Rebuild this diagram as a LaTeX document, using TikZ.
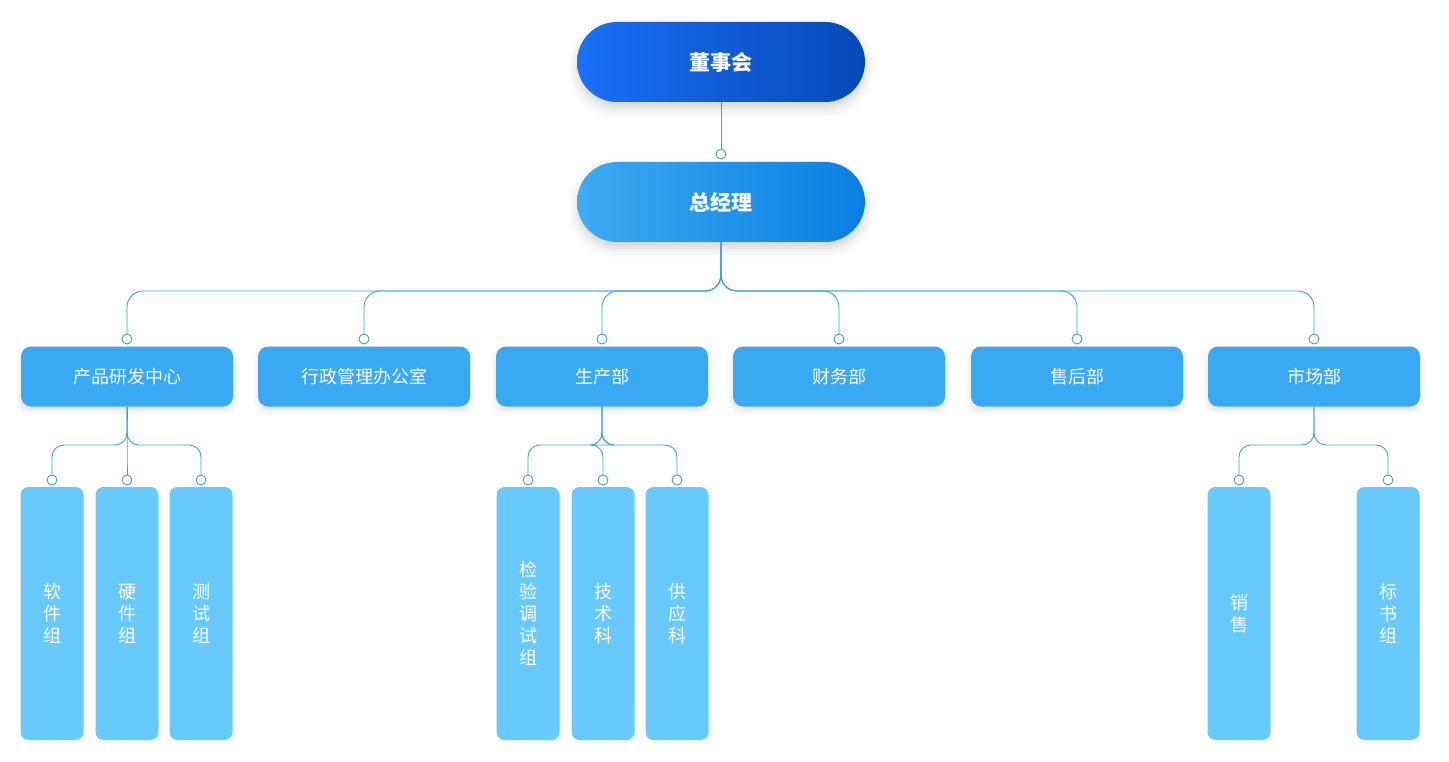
\documentclass[tikz,border=0pt]{standalone}
\usepackage{fontspec}
\setmainfont{Noto Sans CJK SC}
\usetikzlibrary{shadows.blur}
\definecolor{topA}{HTML}{1A70F8}\definecolor{topB}{HTML}{0648B8}
\definecolor{gmA}{HTML}{3DAAF2}\definecolor{gmB}{HTML}{0A7FE2}
\definecolor{dept}{HTML}{3AA9F3}\definecolor{leaf}{HTML}{68CAFC}
\definecolor{line}{HTML}{3A9FE0}
\begin{document}
\begin{tikzpicture}[x=1pt,y=-1pt,
 big/.style={minimum width=288pt,minimum height=80pt,rounded corners=40pt,text=white,font=\fontsize{21}{24}\selectfont\bfseries,blur shadow={shadow xshift=0pt,shadow yshift=-6pt,shadow opacity=18,shadow blur radius=10pt}},
 dep/.style={fill=dept,minimum width=212pt,minimum height=60pt,rounded corners=10pt,text=white,font=\fontsize{18}{20}\selectfont,blur shadow={shadow xshift=0pt,shadow yshift=-4pt,shadow opacity=12,shadow blur radius=6pt}},
 lf/.style={fill=leaf,minimum width=63pt,minimum height=253pt,rounded corners=8pt,text=white,font=\fontsize{18}{22}\selectfont,align=center},
 dot/.style={circle,draw=line,fill=white,line width=0.9pt,inner sep=0pt,minimum size=10pt},
 conn/.style={draw=line,line width=0.9pt,rounded corners=16pt}]
\useasboundingbox (0,0) rectangle (1449,762);
\node[big,left color=topA,right color=topB] (dsh) at (721,62) {董事会};
\node[big,left color=gmA,right color=gmB] (zjl) at (721,202) {总经理};
\node[dot] (d0) at (721,154) {};
\draw[conn] (dsh.south) -- (d0.north);
\coordinate (bus) at (721,291);
\foreach \n/\x/\t in {1/127/产品研发中心,2/364/行政管理办公室,3/602/生产部,4/839/财务部,5/1077/售后部,6/1314/市场部}{
 \node[dep] (p\n) at (\x,376.5) {\t};
 \node[dot] (c\n) at (\x,339) {};
 \draw[conn] (zjl.south) -- (bus) -| (c\n.north);
}
\foreach \n/\x/\p/\bx/\t in {a/52/1/127/软\\件\\组, b/127/1/127/硬\\件\\组, c/201/1/127/测\\试\\组,
 d/528/3/602/检\\验\\调\\试\\组, e/603/3/602/技\\术\\科, f/677/3/602/供\\应\\科,
 g/1239/6/1314/销\\售, h/1388/6/1314/标\\书\\组}{
 \node[lf] (l\n) at (\x,613.5) {\t};
 \node[dot] (e\n) at (\x,480) {};
 \coordinate (b\n) at (\bx,445);
 \draw[conn,rounded corners=12pt] (p\p.south) -- (b\n) -| (e\n.north);
}
\end{tikzpicture}
\end{document}
